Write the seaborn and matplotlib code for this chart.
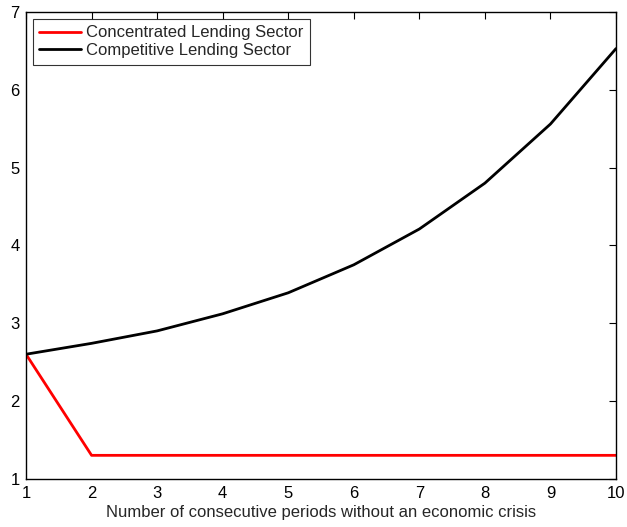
import matplotlib
matplotlib.use("Agg")
import matplotlib.pyplot as plt
import seaborn as sns
import pandas as pd

periods = [1, 2, 3, 4, 5, 6, 7, 8, 9, 10]
concentrated = [2.6, 1.3, 1.3, 1.3, 1.3, 1.3, 1.3, 1.3, 1.3, 1.3]
competitive = [2.6, 2.74, 2.90, 3.12, 3.39, 3.75, 4.21, 4.80, 5.56, 6.53]
series_names = ["Concentrated Lending Sector", "Competitive Lending Sector"]
xticks = list(range(1, 11))
yticks = [1, 2, 3, 4, 5, 6, 7]

sns.set_style("white")
plt.rcParams['font.family'] = ['Liberation Sans', 'DejaVu Sans']

df = pd.DataFrame({
    "x": periods * 2,
    "y": concentrated + competitive,
    "series": [series_names[0]] * len(periods) + [series_names[1]] * len(periods),
})

fig = plt.figure(figsize=(6.27, 5.27), dpi=100)
ax = fig.add_axes([0.0415, 0.0917, 0.941, 0.8855])
sns.lineplot(data=df, x="x", y="y", hue="series", palette={series_names[0]: "#ff0000", series_names[1]: "#000000"},
             linewidth=2, ax=ax, legend=True)

ax.set_xlim(1, 10)
ax.set_ylim(1, 7)
ax.set_xticks(xticks)
ax.set_yticks(yticks)
ax.tick_params(direction="in", top=True, right=True, length=5, width=0.8, labelsize=12, colors="black")
ax.tick_params(axis="x", pad=5)
ax.tick_params(axis="y", pad=4.5)
for s in ax.spines.values():
    s.set_color("black")
    s.set_linewidth(1)
ax.set_xlabel("Number of consecutive periods without an economic crisis", fontsize=12, labelpad=3)
ax.set_ylabel("")

leg = ax.legend(loc="upper left", fontsize=12, frameon=True, fancybox=False, edgecolor="black",
                borderpad=0.4, handlelength=2.5, handletextpad=0.3, labelspacing=0.15,
                borderaxespad=0.4)
leg.get_frame().set_linewidth(0.8)

fig.savefig("out.png", dpi=100)
